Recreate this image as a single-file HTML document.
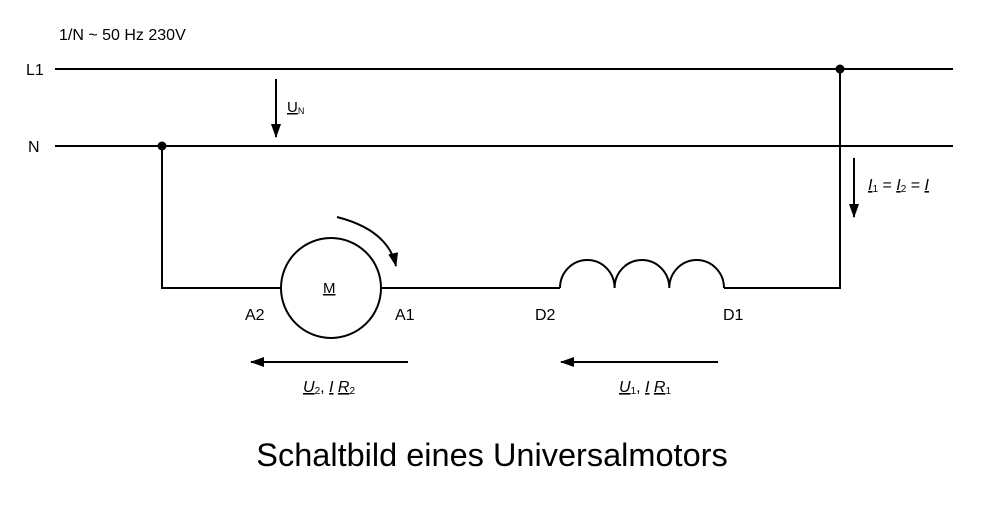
<!DOCTYPE html>
<html><head><meta charset="utf-8"><style>
html,body{margin:0;padding:0;background:#fff;}
svg{display:block;}
text{font-family:"Liberation Sans",sans-serif;fill:#000;}
.u{text-decoration:underline;}
</style></head><body>
<svg width="984" height="512" viewBox="0 0 984 512" xmlns="http://www.w3.org/2000/svg">
<defs>
<marker id="ah2" markerWidth="14" markerHeight="10" refX="13" refY="5" orient="auto" markerUnits="userSpaceOnUse"><path d="M0,0 L14,5 L0,10 Z" fill="#000"/></marker>
</defs>
<g stroke="#000" stroke-width="2" fill="none">
<line x1="55" y1="69" x2="953" y2="69"/>
<line x1="55" y1="146" x2="953" y2="146"/>
<polyline points="162,146 162,288 281,288"/>
<line x1="382" y1="288" x2="560" y2="288"/>
<polyline points="724,288 840,288 840,69"/>
<circle cx="331" cy="288" r="50"/>
<path d="M560,288 A27.3,28 0 0 1 614.6,288 A27.3,28 0 0 1 669.3,288 A27.3,28 0 0 1 724,288"/>
<line x1="276" y1="79" x2="276" y2="137" marker-end="url(#ah2)"/>
<line x1="854" y1="158" x2="854" y2="217" marker-end="url(#ah2)"/>
<line x1="408" y1="362" x2="251" y2="362" marker-end="url(#ah2)"/>
<line x1="718" y1="362" x2="561" y2="362" marker-end="url(#ah2)"/>
<path d="M337,217 Q388,230 396,266" marker-end="url(#ah2)"/>
</g>
<circle cx="162" cy="146" r="4.5" fill="#000"/>
<circle cx="840" cy="69" r="4.5" fill="#000"/>
<text x="59" y="40" font-size="16">1/N ~ 50 Hz 230V</text>
<text x="26" y="75" font-size="16">L1</text>
<text x="28" y="152" font-size="16">N</text>
<text x="287" y="112" font-size="15"><tspan class="u">U</tspan><tspan font-size="9" dy="2">N</tspan></text>
<text x="323" y="293" font-size="15" class="u">M</text>
<text x="245" y="320" font-size="16">A2</text>
<text x="395" y="320" font-size="16">A1</text>
<text x="535" y="320" font-size="16">D2</text>
<text x="723" y="320" font-size="16">D1</text>
<text x="868" y="190" font-size="16" font-style="italic"><tspan class="u">I</tspan><tspan font-size="10" dy="2" font-style="normal">1</tspan><tspan dy="-2" font-style="normal"> = </tspan><tspan class="u">I</tspan><tspan font-size="10" dy="2" font-style="normal">2</tspan><tspan dy="-2" font-style="normal"> = </tspan><tspan class="u">I</tspan></text>
<text x="303" y="392" font-size="16"><tspan font-style="italic" class="u">U</tspan><tspan font-size="10" dy="2">2</tspan><tspan dy="-2">, </tspan><tspan font-style="italic" class="u">I</tspan><tspan> </tspan><tspan font-style="italic" class="u">R</tspan><tspan font-size="10" dy="2">2</tspan></text>
<text x="619" y="392" font-size="16"><tspan font-style="italic" class="u">U</tspan><tspan font-size="10" dy="2">1</tspan><tspan dy="-2">, </tspan><tspan font-style="italic" class="u">I</tspan><tspan> </tspan><tspan font-style="italic" class="u">R</tspan><tspan font-size="10" dy="2">1</tspan></text>
<text x="492" y="466" font-size="32.5" text-anchor="middle">Schaltbild eines Universalmotors</text>
</svg>
</body></html>
